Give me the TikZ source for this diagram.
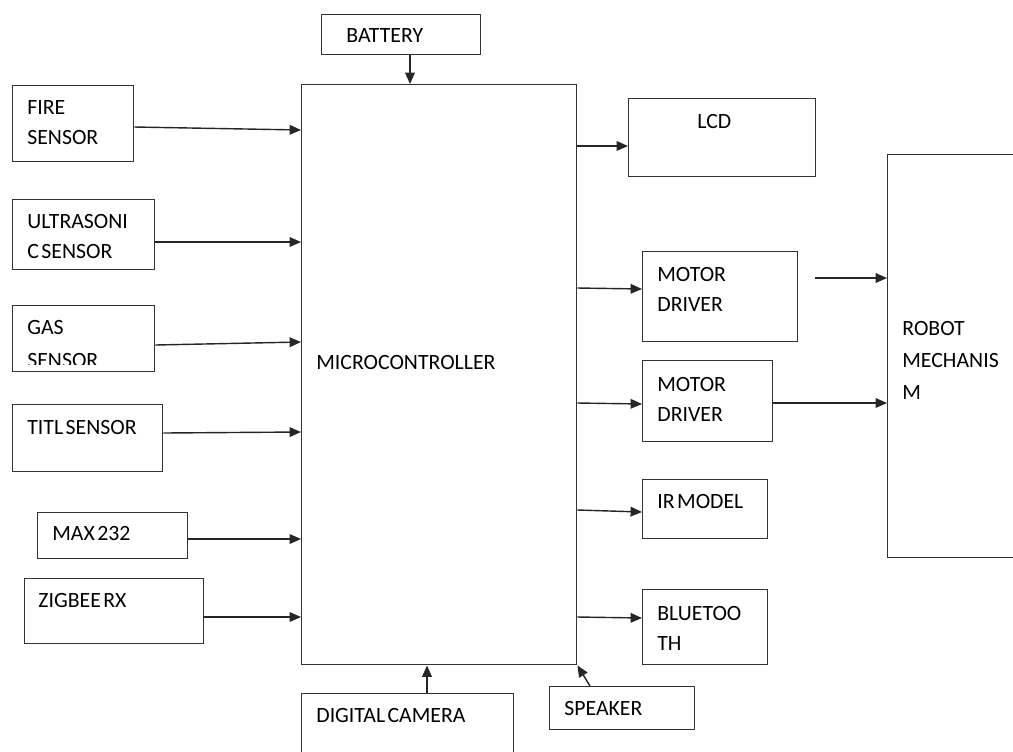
\documentclass[tikz,border=0pt]{standalone}
\usepackage{fontspec}
\setmainfont{Carlito}[WordSpace=0.5]
\usetikzlibrary{arrows.meta}
\newcommand{\lblfont}{\fontsize{12.4}{17.1}\selectfont}
\tikzset{
  blk/.style={draw=black!80,line width=0.8pt,inner sep=0pt,anchor=north west},
  sz/.style 2 args={minimum width=#1*0.02cm,minimum height=#2*0.02cm},
  txt/.style={font=\lblfont,align=left,inner sep=0pt,anchor=north west},
  arr/.style={draw=black!85,line width=0.8pt,-{Triangle[length=6.5pt,width=5.5pt]}}
}

\begin{document}
\begin{tikzpicture}[x=0.02cm,y=-0.02cm]
  \clip (0,0) rectangle (1013,751);
  % blocks
  \node[blk,sz={159}{40}] (bat) at (321,14) {};
  \node[blk,sz={275}{580}] (mc) at (301,84) {};
  \node[blk,sz={121}{76}] (fire) at (12,85) {};
  \node[blk,sz={142}{70}] (ultra) at (12,199) {};
  \node[blk,sz={142}{66}] (gas) at (12,305) {};
  \node[blk,sz={150}{67}] (titl) at (12,404) {};
  \node[blk,sz={150}{46}] (max) at (37,512) {};
  \node[blk,sz={179}{65}] (zig) at (24,578) {};
  \node[blk,sz={212}{70}] (cam) at (301,693) {};
  \node[blk,sz={145}{43}] (spk) at (549,686) {};
  \node[blk,sz={187}{78}] (lcd) at (628,98) {};
  \node[blk,sz={155}{90}] (mdrv1) at (642,251) {};
  \node[blk,sz={130}{81}] (mdrv2) at (642,360) {};
  \node[blk,sz={140}{403}] (robot) at (887,154) {};
  \node[blk,sz={125}{59}] (ir) at (642,479) {};
  \node[blk,sz={125}{75}] (bt) at (642,589) {};

  % labels
  \node[txt] (batt) at ([shift={(25,14)}]bat.north west) {BATTERY};
  \node[txt,anchor=west] (mct) at ([shift={(15,278)}]mc.north west) {MICROCONTROLLER};
  \node[txt] (firet) at ([shift={(15,15)}]fire.north west) {FIRE\\SENSOR};
  \node[txt] (ultrat) at ([shift={(15,15)}]ultra.north west) {ULTRASONI\\C SENSOR};
  \begin{scope}
    \clip (gas.north west) rectangle ([shift={(0,-8)}]gas.south east);
    \node[txt,font=\fontsize{12.4}{19}\selectfont] (gast) at ([shift={(15,15)}]gas.north west) {GAS\\SENSOR};
  \end{scope}
  \node[txt] (titlt) at ([shift={(15,16)}]titl.north west) {TITL SENSOR};
  \node[txt] (maxt) at ([shift={(15,14)}]max.north west) {MAX 232};
  \node[txt] (zigt) at ([shift={(14,15)}]zig.north west) {ZIGBEE RX};
  \node[txt] (camt) at ([shift={(15,15)}]cam.north west) {DIGITAL CAMERA};
  \node[txt] (spkt) at ([shift={(15,15)}]spk.north west) {SPEAKER};
  \node[txt] (lcdt) at ([shift={(69,16)}]lcd.north west) {LCD};
  \node[txt] (mdrv1t) at ([shift={(15,16)}]mdrv1.north west) {MOTOR\\DRIVER};
  \node[txt] (mdrv2t) at ([shift={(15,17)}]mdrv2.north west) {MOTOR\\DRIVER};
  \node[txt,font=\fontsize{12.4}{18.2}\selectfont] (robott) at ([shift={(15,167)}]robot.north west) {ROBOT\\MECHANIS\\M};
  \node[txt] (irt) at ([shift={(15,15)}]ir.north west) {IR MODEL};
  \node[txt] (btt) at ([shift={(15,17)}]bt.north west) {BLUETOO\\TH};

  % connectors
  \draw[arr] (bat.south -| 410,0) -- (mc.north -| 410,0);
  \draw[arr] (fire.east |- 0,127) -- (mc.west |- 0,130);
  \draw[arr] (ultra.east |- 0,242) -- (mc.west |- 0,242);
  \draw[arr] (gas.east |- 0,345) -- (mc.west |- 0,342);
  \draw[arr] (titl.east |- 0,433) -- (mc.west |- 0,432);
  \draw[arr] (max.east |- 0,539) -- (mc.west |- 0,539);
  \draw[arr] (zig.east |- 0,617) -- (mc.west |- 0,617);
  \draw[arr] (cam.north -| 427,0) -- (mc.south -| 427,0);
  \draw[arr] (spk.north -| 590,0) -- (mc.south east);
  \draw[arr] (mc.east |- 0,146) -- (lcd.west |- 0,146);
  \draw[arr] (mc.east |- 0,288) -- (mdrv1.west |- 0,289);
  \draw[arr] (mc.east |- 0,403) -- (mdrv2.west |- 0,404);
  \draw[arr] (mc.east |- 0,510) -- (ir.west |- 0,512);
  \draw[arr] (mc.east |- 0,617) -- (bt.west |- 0,618);
  \coordinate (mdout) at (815,278);
  \draw[arr] (mdout) -- (robot.west |- mdout);
  \draw[arr] (mdrv2.east |- 0,403) -- (robot.west |- 0,403);
\end{tikzpicture}
\end{document}
